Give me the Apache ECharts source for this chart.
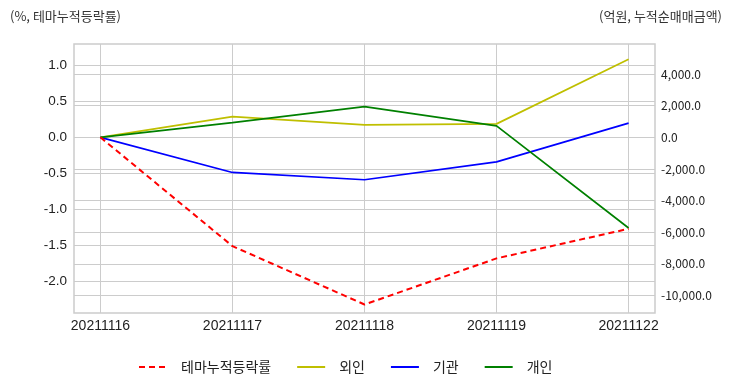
<!DOCTYPE html>
<html><head><meta charset="utf-8">
<script src="https://cdn.jsdelivr.net/npm/echarts@6/dist/echarts.min.js"></script>
<style>html,body{margin:0;padding:0;background:#fff}#c{width:732px;height:392px}</style>
</head><body><div id="c"></div>
<script>
const categories = ['20211116','20211117','20211118','20211119','20211122'];
const themeRate = [0, -1.51, -2.32, -1.68, -1.27];
const foreign = [0, 1310, 790, 850, 4930];
const institution = [0, -2220, -2680, -1550, 900];
const individual = [0, 935, 1945, 725, -5730];
const leftTicks = [-2.0, -1.5, -1.0, -0.5, 0.0, 0.5, 1.0];
const rightTicks = [-10000, -8000, -6000, -4000, -2000, 0, 2000, 4000];

const idx = categories.map((_, i) => i);
const pts = arr => arr.map((v, i) => [i, v]);
const gridColor = '#cccccc';
const chart = echarts.init(document.getElementById('c'));
chart.setOption({
  animation: false,
  backgroundColor: '#fff',
  title: [
    {text: '(%, 테마누적등락률)', left: 10, top: 10, padding: 0, textStyle: {fontSize: 13, fontWeight: 'normal', color: '#333', fontFamily: 'Noto Sans CJK KR'}},
    {text: '(억원, 누적순매매금액)', right: 10, top: 10, padding: 0, textStyle: {fontSize: 13, fontWeight: 'normal', color: '#333', fontFamily: 'Noto Sans CJK KR'}}
  ],
  grid: {left: 74, right: 77, top: 44, bottom: 79, show: true, borderColor: gridColor, borderWidth: 1.5, containLabel: false},
  legend: {
    bottom: 13, left: 133, itemWidth: 28, itemHeight: 10, itemGap: 25,
    itemStyle: {opacity: 0},
    textStyle: {fontSize: 14, color: '#222', fontFamily: 'Noto Sans CJK KR', padding: [0, 0, 0, 9]},
    data: ['테마누적등락률', '외인', '기관', '개인']
  },
  xAxis: {
    type: 'value', min: -0.2, max: 4.2,
    axisLine: {show: false},
    axisTick: {show: false, customValues: idx},
    axisLabel: {customValues: idx, formatter: v => categories[Math.round(v)], fontSize: 14, color: '#222', fontFamily: 'Liberation Sans', margin: 6},
    splitLine: {show: true, lineStyle: {color: gridColor, width: 1}}
  },
  yAxis: [
    {
      type: 'value', min: -2.438, max: 1.295,
      axisLine: {show: false},
      axisTick: {show: false, customValues: leftTicks},
      axisLabel: {customValues: leftTicks, formatter: v => v.toFixed(1), fontSize: 13.5, color: '#222', fontFamily: 'Liberation Sans', margin: 7},
      splitLine: {show: true, lineStyle: {color: gridColor, width: 1}}
    },
    {
      type: 'value', min: -11104, max: 5899,
      axisLine: {show: false},
      axisTick: {show: false, customValues: rightTicks},
      axisLabel: {customValues: rightTicks, formatter: v => v.toLocaleString('en-US', {minimumFractionDigits: 1, maximumFractionDigits: 1}), fontSize: 12, color: '#222', fontFamily: 'Noto Sans CJK KR', margin: 6},
      splitLine: {show: true, lineStyle: {color: gridColor, width: 1}}
    }
  ],
  series: [
    {name: '테마누적등락률', type: 'line', yAxisIndex: 0, data: pts(themeRate), symbol: 'none', lineStyle: {color: '#ff0000', width: 2, type: [6, 4]}, itemStyle: {color: '#ff0000'}, z: 5},
    {name: '외인', type: 'line', yAxisIndex: 1, data: pts(foreign), symbol: 'none', lineStyle: {color: '#bfbf00', width: 1.7}, itemStyle: {color: '#bfbf00'}},
    {name: '기관', type: 'line', yAxisIndex: 1, data: pts(institution), symbol: 'none', lineStyle: {color: '#0000ff', width: 1.7}, itemStyle: {color: '#0000ff'}},
    {name: '개인', type: 'line', yAxisIndex: 1, data: pts(individual), symbol: 'none', lineStyle: {color: '#008000', width: 1.7}, itemStyle: {color: '#008000'}}
  ]
});
</script></body></html>
